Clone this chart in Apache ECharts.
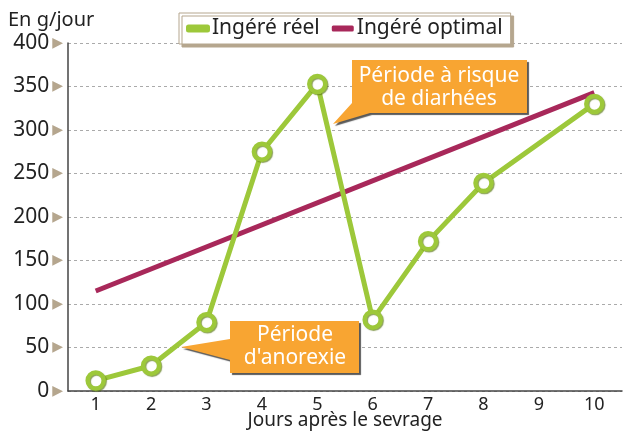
<!DOCTYPE html>
<html><head><meta charset="utf-8">
<script src="https://cdn.jsdelivr.net/npm/echarts@6/dist/echarts.min.js"></script>
<style>html,body{margin:0;padding:0;background:#fff}#c{width:624px;height:431px}</style>
</head><body><div id="c"></div>
<script>
const categories = ['1','2','3','4','5','6','7','8','9','10'];
const ingereReel = [12, 29, 79, 275, 353, 82, 172, 239, null, 330];
const ingereOptimal = [115, null, null, null, null, null, null, null, null, 343];
const yTicks = [0, 50, 100, 150, 200, 250, 300, 350, 400];

const FONT = 'Noto Sans';
const GREEN = '#9dc83a', RED = '#a8285a', ORANGE = '#f8a532', TAN = '#b5a68e', AX = '#444';

const chart = echarts.init(document.getElementById('c'), null, { width: 624, height: 431 });
chart.setOption({
  animation: false,
  textStyle: { fontFamily: FONT },
  title: { text: 'En g/jour', left: 3, top: 5, textStyle: { fontFamily: FONT, fontSize: 20, fontWeight: 'normal', color: '#222' } },
  legend: {
    left: 179, top: 13, width: 334, height: 34,
    padding: [5, 8, 5, 7],
    backgroundColor: '#fff', borderColor: TAN, borderWidth: 1,
    shadowColor: TAN, shadowOffsetX: 3, shadowOffsetY: 3, shadowBlur: 0,
    itemWidth: 22, itemHeight: 6, itemGap: 12,
    icon: 'roundRect',
    textStyle: { fontFamily: FONT, fontSize: 21, color: '#222', padding: [0, 0, 0, -2] },
    data: [
      { name: 'Ingéré réel', itemStyle: { color: GREEN } },
      { name: 'Ingéré optimal', itemStyle: { color: RED } }
    ]
  },
  grid: { left: 68, width: 554, top: 43, height: 348, containLabel: false, outerBoundsMode: 'none' },
  xAxis: {
    type: 'category', data: categories,
    name: 'Jours après le sevrage', nameLocation: 'middle', nameGap: 20, nameMoveOverlap: false,
    nameTextStyle: { fontFamily: FONT, fontSize: 19, color: '#222', verticalAlign: 'top' },
    axisLine: { lineStyle: { color: AX, width: 1.5 } },
    axisTick: { inside: true, length: 6, lineStyle: { color: AX, width: 1.5 } },
    axisLabel: { fontFamily: FONT, fontSize: 18, color: '#222', margin: 5 }
  },
  yAxis: {
    type: 'value', min: 0, max: 400, interval: 50,
    axisLine: { show: true, lineStyle: { color: AX, width: 1.5 } },
    axisTick: { show: false },
    splitLine: { lineStyle: { color: '#aaa', type: [3, 3], width: 1 } },
    axisLabel: {
      margin: 5,
      formatter: v => yTicks.includes(v) ? '{v|' + v + '}{t|▶}' : '',
      rich: {
        v: { fontFamily: FONT, fontSize: 21, color: '#222', padding: [0, 3, 0, 0] },
        t: { fontFamily: 'DejaVu Sans', fontSize: 14, color: TAN }
      }
    }
  },
  series: [
    {
      name: 'Ingéré optimal', type: 'line', data: ingereOptimal, connectNulls: true,
      showSymbol: false, symbol: 'none',
      lineStyle: { color: RED, width: 5 }, itemStyle: { color: RED }, z: 2
    },
    {
      name: 'Ingéré réel', type: 'line', data: ingereReel, connectNulls: true,
      symbol: 'circle', symbolSize: 16,
      lineStyle: { color: GREEN, width: 5 },
      itemStyle: { color: '#fff', borderColor: GREEN, borderWidth: 4.5, shadowColor: 'rgba(90,120,20,0.7)', shadowOffsetX: 1, shadowOffsetY: 1, shadowBlur: 1 },
      z: 3
    }
  ],
  graphic: [
    {
      type: 'polygon', z: 10,
      shape: { points: [[352,60],[527,60],[527,113],[370,113],[333,124],[352,103]] },
      style: { fill: ORANGE, shadowColor: 'rgba(0,0,0,0.65)', shadowOffsetX: 2, shadowOffsetY: 2, shadowBlur: 1 }
    },
    {
      type: 'text', z: 11, x: 439, y: 88,
      style: { text: 'Période à risque\nde diarhées', fill: '#fff', font: '21px "Noto Sans"', align: 'center', verticalAlign: 'middle', lineHeight: 23 }
    },
    {
      type: 'polygon', z: 10,
      shape: { points: [[230,321],[359,321],[359,373],[230,373],[230,360],[181,347],[230,339]] },
      style: { fill: ORANGE, shadowColor: 'rgba(0,0,0,0.65)', shadowOffsetX: 2, shadowOffsetY: 2, shadowBlur: 1 }
    },
    {
      type: 'text', z: 11, x: 295, y: 347,
      style: { text: 'Période\nd\'anorexie', fill: '#fff', font: '21px "Noto Sans"', align: 'center', verticalAlign: 'middle', lineHeight: 23 }
    }
  ]
});
</script></body></html>
